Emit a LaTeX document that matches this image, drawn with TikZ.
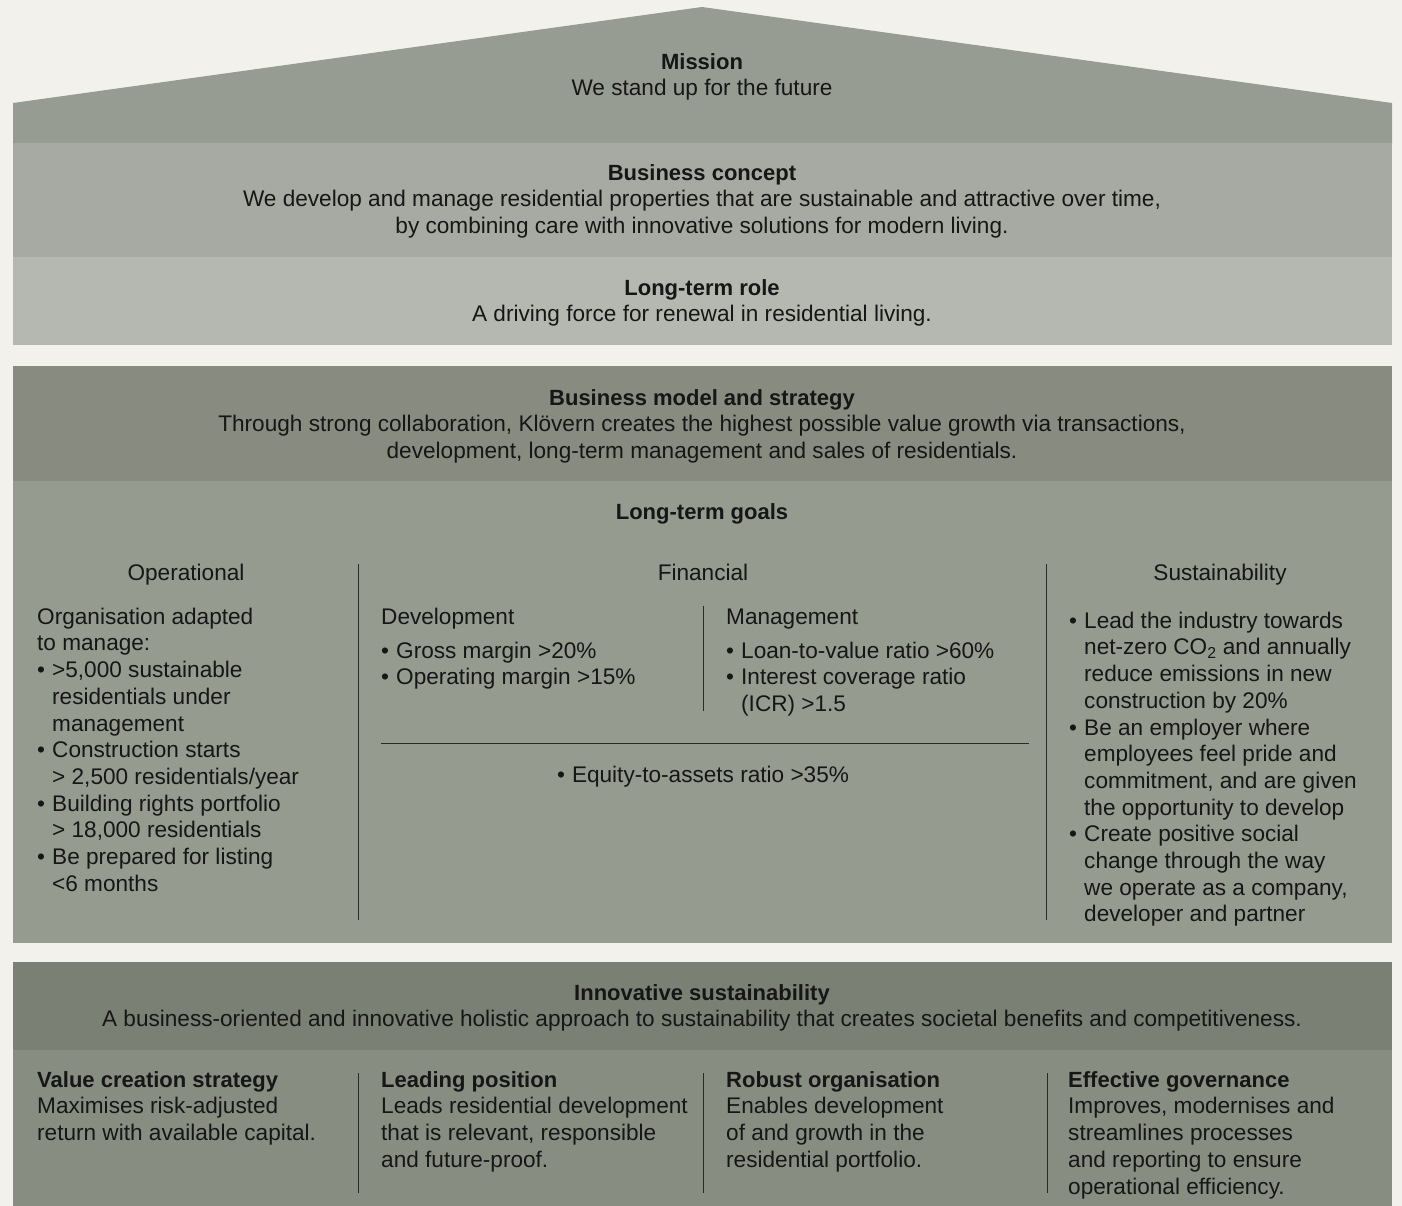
\documentclass[tikz,border=0pt]{standalone}
\usepackage{fontspec}
\setmainfont{Liberation Sans}
\definecolor{paper}{HTML}{F3F1EC}
\definecolor{roofc}{HTML}{979C92}
\definecolor{conceptc}{HTML}{A7AAA2}
\definecolor{rolec}{HTML}{B5B8B0}
\definecolor{modelc}{HTML}{878B80}
\definecolor{goalsc}{HTML}{969B90}
\definecolor{innovc}{HTML}{7B8074}
\definecolor{pillarc}{HTML}{888D82}
\definecolor{ink}{HTML}{161616}
\definecolor{rule}{HTML}{2A2A2A}
\newcommand{\txtfont}{\fontsize{22.6}{26.7}\selectfont}
\newcommand{\hd}[1]{{\fontsize{22}{26.7}\selectfont\bfseries #1}}
\newcommand{\bul}{\makebox[15pt][l]{•}}
\newcommand{\hang}{\hspace*{15pt}}
\tikzset{
  band/.style={draw=none, inner sep=0pt, anchor=north west},
  txt/.style={font=\txtfont, text=ink, inner sep=0pt, yshift=18.69pt},
  ctext/.style={txt, anchor=north, align=center},
  ltext/.style={txt, anchor=north west, align=left},
  divider/.style={draw=rule, line width=1pt},
}
\begin{document}
\begin{tikzpicture}[x=1pt, y=-1pt]
  \fill[paper] (0,0) rectangle (1402,1206);
  \useasboundingbox (0,0) rectangle (1402,1206);

  % ---- house roof and upper bands ----
  \fill[roofc] (13,103) -- (702,7) -- (1392,103) -- (1392,143) -- (13,143) -- cycle;
  \node[band, fill=conceptc, minimum width=1379pt, minimum height=114pt] (concept) at (13,143) {};
  \node[band, fill=rolec, minimum width=1379pt, minimum height=88pt] (role) at (13,257) {};

  \node[ctext] (mission) at (702,69) {\strut\hd{Mission}\\We stand up for the future};
  \node[ctext] (conceptt) at (702,180) {\strut\hd{Business concept}\\
    We develop and manage residential properties that are sustainable and attractive over time,\\
    by combining care with innovative solutions for modern living.};
  \node[ctext] (rolet) at (702,295) {\strut\hd{Long-term role}\\A driving force for renewal in residential living.};

  % ---- business model and long-term goals ----
  \node[band, fill=modelc, minimum width=1379pt, minimum height=115pt] (model) at (13,366) {};
  \node[band, fill=goalsc, minimum width=1379pt, minimum height=462pt] (goals) at (13,481) {};

  \node[ctext] (modelt) at (702,405) {\strut\hd{Business model and strategy}\\
    Through strong collaboration, Klövern creates the highest possible value growth via transactions,\\
    development, long-term management and sales of residentials.};
  \node[ctext] (goalst) at (702,519) {\strut\hd{Long-term goals}};

  \node[ctext] (oper) at (186,580) {\strut Operational};
  \node[ctext] (fin) at (703,580) {\strut Financial};
  \node[ctext] (sust) at (1220,580) {\strut Sustainability};

  \draw[divider] (358,564) -- (358,920);
  \draw[divider] (1046,564) -- (1046,920);
  \draw[divider] (703,606) -- (703,711);
  \draw[divider] (381,743) -- (1029,743);

  \node[ltext] (operb) at (37,624) {\strut Organisation adapted\\
    to manage:\\
    \bul>5,000 sustainable\\
    \hang residentials under\\
    \hang management\\
    \bul Construction starts\\
    \hang > 2,500 residentials/year\\
    \bul Building rights portfolio\\
    \hang > 18,000 residentials\\
    \bul Be prepared for listing\\
    \hang <6 months};

  \node[ltext] (devh) at (381,624) {\strut Development};
  \node[ltext] (devb) at (381,658) {\strut\bul Gross margin >20\%\\
    \bul Operating margin >15\%};
  \node[ltext] (mgmh) at (726,624) {\strut Management};
  \node[ltext] (mgmb) at (726,658) {\strut\bul Loan-to-value ratio >60\%\\
    \bul Interest coverage ratio\\
    \hang (ICR) >1.5};
  \node[ctext] (equity) at (703,782) {\strut\bul Equity-to-assets ratio >35\%};

  \node[ltext] (sustb) at (1069,628) {\strut\bul Lead the industry towards\\
    \hang net-zero CO\textsubscript{2} and annually\\
    \hang reduce emissions in new\\
    \hang construction by 20\%\\
    \bul Be an employer where\\
    \hang employees feel pride and\\
    \hang commitment, and are given\\
    \hang the opportunity to develop\\
    \bul Create positive social\\
    \hang change through the way\\
    \hang we operate as a company,\\
    \hang developer and partner};

  % ---- innovative sustainability and its four pillars ----
  \node[band, fill=innovc, minimum width=1379pt, minimum height=88pt] (innov) at (13,962) {};
  \node[band, fill=pillarc, minimum width=1379pt, minimum height=156pt] (pillars) at (13,1050) {};

  \node[ctext] (innovt) at (702,1000) {\strut\hd{Innovative sustainability}\\
    A business-oriented and innovative holistic approach to sustainability that creates societal benefits and competitiveness.};

  \draw[divider] (358,1073) -- (358,1193);
  \draw[divider] (703,1073) -- (703,1193);
  \draw[divider] (1047,1073) -- (1047,1193);

  \node[ltext] (valuep) at (37,1087) {\strut\hd{Value creation strategy}\\
    Maximises risk-adjusted\\
    return with available capital.};
  \node[ltext] (leadp) at (381,1087) {\strut\hd{Leading position}\\
    Leads residential development\\
    that is relevant, responsible\\
    and future-proof.};
  \node[ltext] (robustp) at (726,1087) {\strut\hd{Robust organisation}\\
    Enables development\\
    of and growth in the\\
    residential portfolio.};
  \node[ltext] (govp) at (1068,1087) {\strut\hd{Effective governance}\\
    Improves, modernises and\\
    streamlines processes\\
    and reporting to ensure\\
    operational efficiency.};
\end{tikzpicture}
\end{document}
